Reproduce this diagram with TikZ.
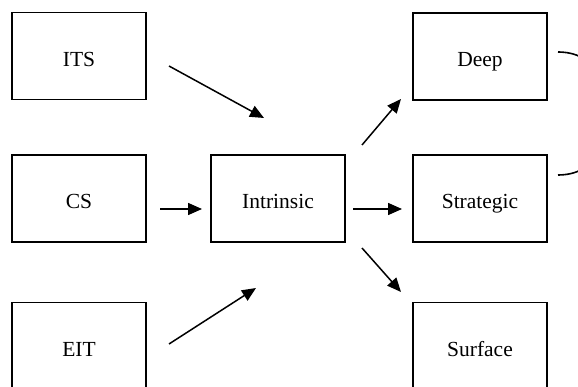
\documentclass[tikz,border=0pt]{standalone}
\usepackage{fontspec}
\setmainfont{Liberation Serif}
\usetikzlibrary{arrows.meta}

\begin{document}
\begin{tikzpicture}[x=1pt, y=-1pt,
    box/.style={draw, line width=1.6pt, minimum width=134pt, minimum height=87pt,
                inner sep=0pt, text height=21pt, text depth=0pt,
                font=\fontsize{21.5}{25}\selectfont},
    link/.style={line width=1.5pt, -{Triangle[length=14pt,width=12pt]}}]

    \useasboundingbox (0,0) rectangle (578,387);
    \clip (0,0) rectangle (578,387);

    \coordinate (C1) at (79, 56);
    \coordinate (C2) at (79, 198.5);
    \coordinate (C3) at (79, 346);
    \coordinate (C4) at (278, 198.5);
    \coordinate (C5) at (480, 56.5);
    \coordinate (C6) at (480, 198.5);
    \coordinate (C7) at (480, 346);

    \node[box] (N1) at (C1) {ITS};
    \node[box] (N2) at (C2) {CS};
    \node[box] (N3) at (C3) {EIT};
    \node[box] (N4) at (C4) {Intrinsic};
    \node[box] (N5) at (C5) {Deep};
    \node[box] (N6) at (C6) {Strategic};
    \node[box] (N7) at (C7) {Surface};

    % free ends of the arrows
    \coordinate (A1) at (169, 66);   \coordinate (B1) at (264, 118);
    \coordinate (A2) at (160, 209);  \coordinate (B2) at (202, 209);
    \coordinate (A3) at (169, 344);  \coordinate (B3) at (256, 288);
    \coordinate (A4) at (362, 145);  \coordinate (B4) at (401, 99);
    \coordinate (A5) at (353, 209);  \coordinate (B5) at (402, 209);
    \coordinate (A6) at (362, 248);  \coordinate (B6) at (401, 292);
    \coordinate (A7) at (558, 52);   \coordinate (B7) at (558, 175);

    \draw [link] (A1) -- (B1);
    \draw [link] (A2) -- (B2);
    \draw [link] (A3) -- (B3);

    \draw [link] (A4) -- (B4);
    \draw [link] (A5) -- (B5);
    \draw [link] (A6) -- (B6);

    \draw [line width=1.6pt] (A7) to [out=0,in=0,looseness=1.5] (B7);

\end{tikzpicture}
\end{document}
